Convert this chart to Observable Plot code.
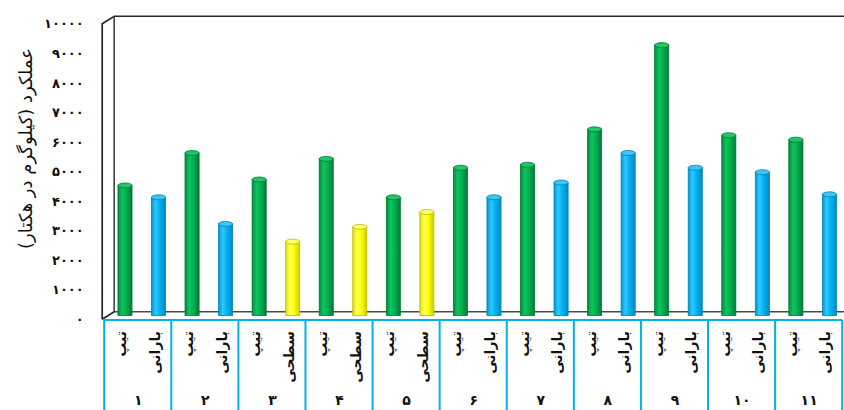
<!DOCTYPE html>
<html><head><meta charset="utf-8">
<script src="https://cdn.jsdelivr.net/npm/d3@7"></script>
<script src="https://cdn.jsdelivr.net/npm/@observablehq/plot@0.6"></script>
<style>body{margin:0;background:#fff}#chart svg{display:block}</style>
</head><body><div id="chart"></div>
<script>
// ---- data ----
const groups = ["۱","۲","۳","۴","۵","۶","۷","۸","۹","۱۰","۱۱"];
const methodA = ["تیپ","تیپ","تیپ","تیپ","تیپ","تیپ","تیپ","تیپ","تیپ","تیپ","تیپ"];
const methodB = ["بارانی","بارانی","سطحی","سطحی","سطحی","بارانی","بارانی","بارانی","بارانی","بارانی","بارانی"];
const yieldA = [4400,5500,4600,5300,4000,5000,5100,6300,9150,6100,5950];
const yieldB = [4000,3100,2500,3000,3500,4000,4500,5500,5000,4850,4100];
const yTicks = [0,1000,2000,3000,4000,5000,6000,7000,8000,9000,10000];
const yTickLabels = ["۰","۱۰۰۰","۲۰۰۰","۳۰۰۰","۴۰۰۰","۵۰۰۰","۶۰۰۰","۷۰۰۰","۸۰۰۰","۹۰۰۰","۱۰۰۰۰"];
const yTitle = "عملکرد (کیلوگرم در هکتار)";

const bars = [];
groups.forEach((g, k) => {
  bars.push({i: 2*k, group: g, method: methodA[k], value: yieldA[k]});
  bars.push({i: 2*k+1, group: g, method: methodB[k], value: yieldB[k]});
});
const fills = {"تیپ":"url(#gGreen)","بارانی":"url(#gBlue)","سطحی":"url(#gYellow)"};
const caps = {"تیپ":"#1fc765","بارانی":"#3cc6f7","سطحی":"#ffff70"};
const edges = {"تیپ":"#007a36","بارانی":"#0084b8","سطحی":"#bdbd00"};
const FONT = "'DejaVu Sans', sans-serif";

const plot = Plot.plot({
  width: 844, height: 410,
  marginLeft: 0, marginRight: 0, marginTop: 0, marginBottom: 0,
  style: {fontFamily: FONT, background: "#fff"},
  x: {type: "linear", domain: [0, 22], range: [108.2, 846.2], axis: null},
  y: {domain: [0, 10000], range: [315.5, 20], axis: null},
  color: {type: "identity"},
  marks: [
    Plot.rect(bars, {x1: d => d.i + 0.29, x2: d => d.i + 0.71, y1: () => 0, y2: "value",
      fill: d => fills[d.method], stroke: d => edges[d.method], strokeWidth: 0.8}),
    Plot.rect(bars, {x1: d => d.i + 0.29, x2: d => d.i + 0.71, y1: "value", y2: "value",
      insetTop: -2.5, insetBottom: -2.5, rx: 7, ry: 2.5,
      fill: d => caps[d.method], stroke: d => edges[d.method], strokeWidth: 0.8}),
    Plot.text(yTicks, {x: () => 0, y: d => d, text: (d, j) => yTickLabels[j],
      dx: -25, dy: 3.75, textAnchor: "end", fontSize: 13, fontWeight: "bold", fill: "#111"}),
    Plot.text([yTitle], {frameAnchor: "left", dx: 26, dy: -57, rotate: -90,
      textAnchor: "middle", fontSize: 18, fill: "#111"}),
    Plot.text(bars, {x: d => d.i + 0.5, y: () => 0, text: "method", dx: -4, dy: 15,
      rotate: -90, textAnchor: "end", fontSize: 14, fontWeight: "bold", fill: "#111"}),
    Plot.text(groups, {x: (d, k) => 2*k + 1, y: () => 0, text: d => d, dx: -4, dy: 84.5,
      fontSize: 14, fontWeight: "bold", fill: "#111"})
  ]
});

const svg = d3.select(plot);
const defs = svg.insert("defs", ":first-child");
function grad(id, stops) {
  const g = defs.append("linearGradient").attr("id", id).attr("x1", 0).attr("x2", 1).attr("y1", 0).attr("y2", 0);
  stops.forEach(([o, c]) => g.append("stop").attr("offset", o).attr("stop-color", c));
}
grad("gGreen", [["0%","#008a3c"],["30%","#10c45e"],["60%","#00b050"],["100%","#00773a"]]);
grad("gBlue", [["0%","#0096d0"],["30%","#30c8ff"],["60%","#00b0f0"],["100%","#0088c0"]]);
grad("gYellow", [["0%","#dede00"],["30%","#ffff5a"],["60%","#ffff00"],["100%","#cccc00"]]);

const X = plot.scale("x"), Y = plot.scale("y");
const xs = v => X.apply(v), ys = v => Y.apply(v);
const B = [6, -3.75], F = [-6, 3.75];
const x0 = xs(0), xE = xs(22), yT = ys(10000), yB = ys(0);
const frame = svg.insert("g", "g").attr("fill", "none").attr("stroke", "#262626").attr("stroke-width", 1.7);
frame.append("path").attr("d", `M${x0+F[0]},${yB+F[1]}L${x0+F[0]},${yT+F[1]}L${x0+B[0]},${yT+B[1]}L${xE+B[0]},${yT+B[1]}`);
frame.append("path").attr("d", `M${x0+B[0]},${yT+B[1]}L${x0+B[0]},${yB+B[1]}L${xE+B[0]},${yB+B[1]}`).attr("stroke", "#4a4a4a");
frame.append("path").attr("d", `M${x0+F[0]},${yB+F[1]}L${x0+B[0]},${yB+B[1]}`);

// category table
const table = svg.append("g").attr("fill", "none").attr("stroke", "#00b0f0").attr("stroke-width", 2);
const tTop = yB + 4.5, tBot = 412;
table.append("line").attr("x1", xs(0) - 4).attr("x2", xs(22) - 4).attr("y1", tTop).attr("y2", tTop);
for (let k = 0; k <= 11; k++) {
  const xx = xs(2*k) - 4;
  table.append("line").attr("x1", xx).attr("x2", xx).attr("y1", tTop).attr("y2", tBot);
}
document.getElementById("chart").appendChild(plot);
</script>
</body></html>
